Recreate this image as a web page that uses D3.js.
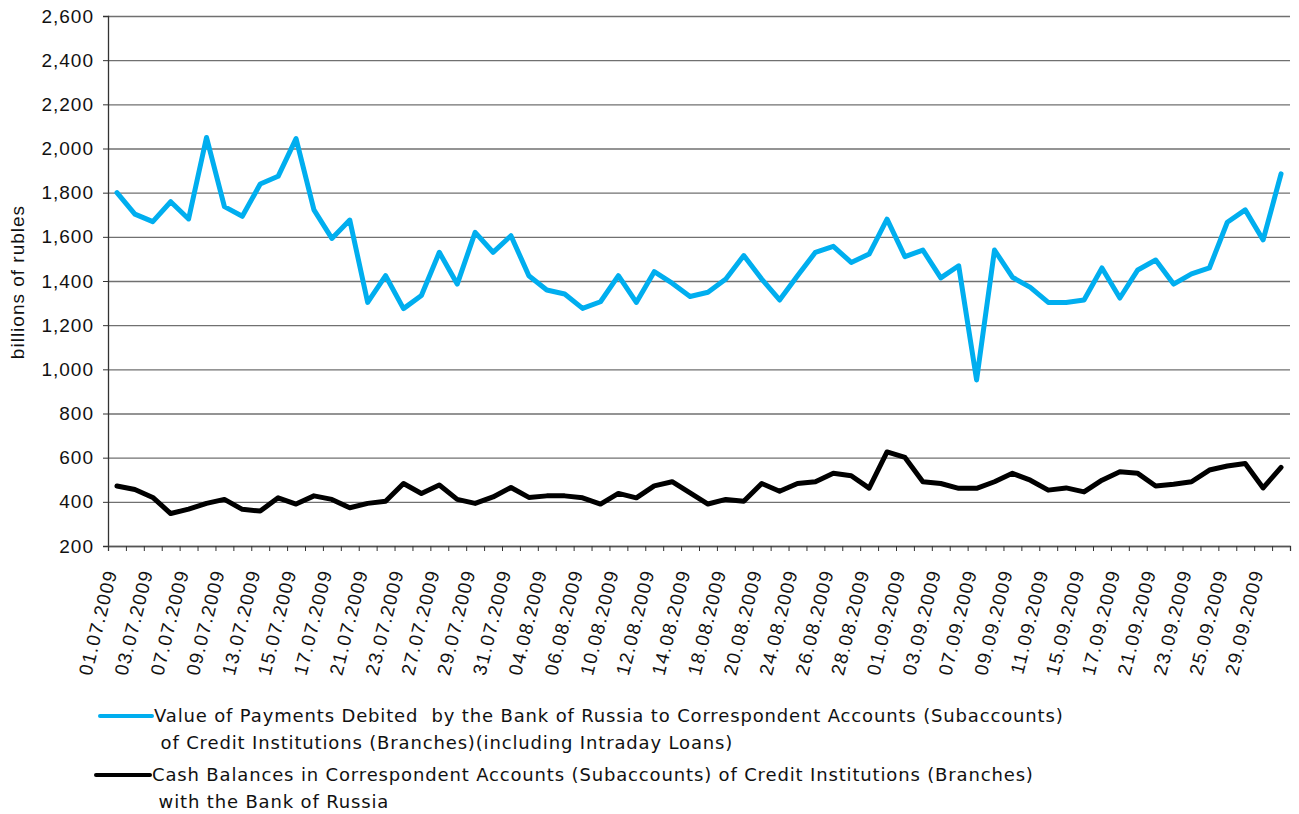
<!DOCTYPE html>
<html>
<head>
<meta charset="utf-8">
<script src="https://cdn.jsdelivr.net/npm/d3@7"></script>
<style>
  body { margin: 0; background: #fff; }
  svg { display: block; }
</style>
</head>
<body>
<div id="chart"></div>
<script>
const SIZE = { width: 1299, height: 814 }
const MARGIN = { left: 108, right: 9, top: 16, bottom: 268 }
const FONT = "'Liberation Sans', Arial, sans-serif"

// working days, 01.07.2009 - 30.09.2009
const dates = [
  "01.07.2009","02.07.2009","03.07.2009","06.07.2009","07.07.2009","08.07.2009","09.07.2009","10.07.2009",
  "13.07.2009","14.07.2009","15.07.2009","16.07.2009","17.07.2009","20.07.2009","21.07.2009","22.07.2009",
  "23.07.2009","24.07.2009","27.07.2009","28.07.2009","29.07.2009","30.07.2009","31.07.2009",
  "03.08.2009","04.08.2009","05.08.2009","06.08.2009","07.08.2009","10.08.2009","11.08.2009","12.08.2009",
  "13.08.2009","14.08.2009","17.08.2009","18.08.2009","19.08.2009","20.08.2009","21.08.2009","24.08.2009",
  "25.08.2009","26.08.2009","27.08.2009","28.08.2009","31.08.2009",
  "01.09.2009","02.09.2009","03.09.2009","04.09.2009","07.09.2009","08.09.2009","09.09.2009","10.09.2009",
  "11.09.2009","14.09.2009","15.09.2009","16.09.2009","17.09.2009","18.09.2009","21.09.2009","22.09.2009",
  "23.09.2009","24.09.2009","25.09.2009","28.09.2009","29.09.2009","30.09.2009"
]
const payments = [
  1800, 1703, 1669, 1759, 1681, 2050, 1737, 1693, 1839, 1874, 2045, 1722, 1593, 1676, 1303, 1424,
  1275, 1334, 1530, 1386, 1620, 1530, 1605, 1424, 1359, 1341, 1276, 1306, 1424, 1303, 1442, 1390,
  1330, 1349, 1409, 1515, 1409, 1314, 1424, 1530, 1557, 1484, 1522, 1680, 1510, 1540, 1414, 1469,
  952, 1540, 1417, 1371, 1303, 1303, 1314, 1459, 1323, 1450, 1495, 1386, 1432, 1459, 1666, 1722,
  1586, 1885
]
const balances = [
  472, 456, 420, 347, 367, 393, 411, 366, 358, 418, 390, 427, 411, 373, 393, 403,
  483, 438, 476, 411, 393, 422, 465, 420, 427, 427, 418, 390, 438, 418, 472, 491,
  441, 390, 411, 403, 483, 448, 483, 491, 529, 518, 462, 626, 601, 491, 483, 461,
  461, 491, 529, 498, 453, 463, 445, 498, 536, 529, 472, 480, 491, 544, 562, 574,
  463, 556
]
const yTicks = [200, 400, 600, 800, 1000, 1200, 1400, 1600, 1800, 2000, 2200, 2400, 2600]
const seriesNames = [
  ["Value of Payments Debited  by the Bank of Russia to Correspondent Accounts (Subaccounts)",
   " of Credit Institutions (Branches)(including Intraday Loans)"],
  ["Cash Balances in Correspondent Accounts (Subaccounts) of Credit Institutions (Branches)",
   " with the Bank of Russia"]
]
const COLORS = ["#00aeef", "#000000"]

const svg = d3.select("#chart").append("svg")
    .attr("width", SIZE.width)
    .attr("height", SIZE.height)
    .attr("font-family", FONT);

const x = d3.scaleBand().domain(dates).range([MARGIN.left, SIZE.width - MARGIN.right]);
const xIdx = d3.scaleLinear().domain([0, dates.length]).range([MARGIN.left, SIZE.width - MARGIN.right]);
const y = d3.scaleLinear().domain([200, 2600]).range([SIZE.height - MARGIN.bottom, MARGIN.top]);
const bottom = SIZE.height - MARGIN.bottom;

// grid
svg.append("g")
    .attr("transform", `translate(${MARGIN.left}, 0)`)
    .call(d3.axisLeft(y).tickValues(yTicks).tickSize(-(SIZE.width - MARGIN.left - MARGIN.right)).tickFormat(""))
    .call(g => g.select(".domain").remove())
    .call(g => g.selectAll("line").attr("stroke", "#707070").attr("stroke-width", 1.3));

// y axis
svg.append("g")
    .attr("transform", `translate(${MARGIN.left}, 0)`)
    .call(d3.axisLeft(y).tickValues(yTicks).tickSize(5).tickPadding(9).tickFormat(d3.format(",")))
    .attr("font-family", FONT)
    .call(g => g.select(".domain").attr("stroke", "#333").attr("stroke-width", 1.3))
    .call(g => g.selectAll("line").attr("stroke", "#333"))
    .call(g => g.selectAll("text").attr("font-size", 19).attr("letter-spacing", 1).attr("fill", "#111"));

// x axis tick marks at category boundaries
svg.append("g")
    .attr("transform", `translate(0, ${bottom})`)
    .call(d3.axisBottom(xIdx).tickValues(d3.range(dates.length + 1)).tickSize(5).tickFormat(""))
    .call(g => g.select(".domain").attr("stroke", "#555").attr("stroke-width", 1.3))
    .call(g => g.selectAll("line").attr("stroke", "#333"));

// x labels, every other day
svg.append("g")
    .attr("transform", `translate(0, ${bottom})`)
    .call(d3.axisBottom(x).tickValues(dates.filter((d, i) => i % 2 === 0)).tickSize(0).tickPadding(0))
    .attr("font-family", FONT)
    .call(g => g.select(".domain").remove())
    .call(g => g.selectAll("text")
        .attr("font-size", 19)
        .attr("letter-spacing", 1.3)
        .attr("fill", "#111")
        .attr("text-anchor", "end")
        .attr("dy", "0.35em")
        .attr("transform", "translate(-6, 24) rotate(-76)"));

// y title
svg.append("text")
    .attr("transform", `translate(24, 282) rotate(-90)`)
    .attr("text-anchor", "middle")
    .attr("font-size", 19)
    .attr("letter-spacing", 1)
    .attr("fill", "#111")
    .text("billions of rubles");

// lines
const line = d3.line().x((d, i) => x(dates[i]) + x.bandwidth() / 2).y(d => y(d));
[payments, balances].forEach((s, k) => {
  svg.append("path")
      .attr("d", line(s))
      .attr("fill", "none")
      .attr("stroke", COLORS[k])
      .attr("stroke-width", 5)
      .attr("stroke-linejoin", "round")
      .attr("stroke-linecap", "round");
});

// legend
const legendY = [716, 775];
seriesNames.forEach((lines, k) => {
  const g = svg.append("g").attr("transform", `translate(0, ${legendY[k]})`);
  g.append("line")
      .attr("x1", 100 - k * 4).attr("x2", 152 - k * 2)
      .attr("stroke", COLORS[k]).attr("stroke-width", 4).attr("stroke-linecap", "round");
  lines.forEach((t, j) => {
    g.append("text")
        .attr("x", 154 - k * 2)
        .attr("y", j * 27)
        .attr("dy", "0.35em")
        .attr("font-family", "'DejaVu Sans', sans-serif")
        .attr("font-size", 18)
        .attr("letter-spacing", 0.85)
        .attr("fill", "#111")
        .style("white-space", "pre")
        .text(t);
  });
});
</script>
</body>
</html>
